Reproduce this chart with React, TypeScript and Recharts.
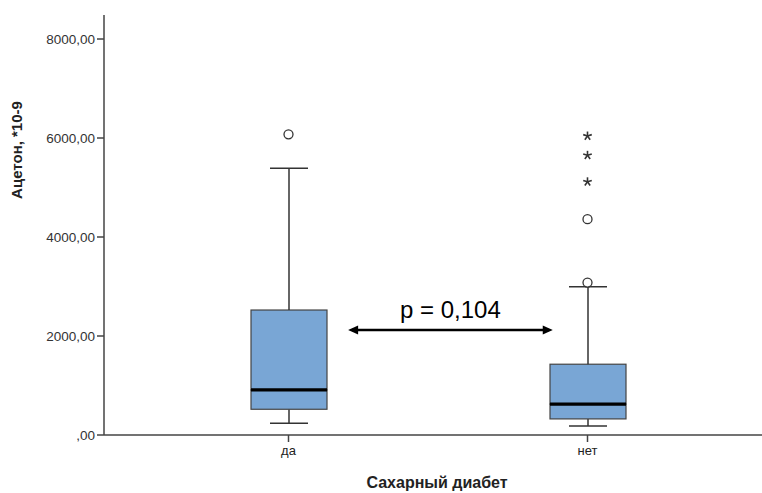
import { ComposedChart, Bar, Scatter, XAxis, YAxis, ReferenceLine, Label } from "recharts";

// box plot summary
const categories = ["да", "нет"];
const whiskerLow = [235, 180];
const q1 = [520, 325];
const median = [910, 625];
const q3 = [2525, 1430];
const whiskerHigh = [5390, 2995];

// outliers: circles = mild, stars = extreme
const circleOutliers = [
  { cat: "да", v: 6075 },
  { cat: "нет", v: 4360 },
  { cat: "нет", v: 3080 },
];
const starOutliers = [
  { cat: "нет", v: 5115 },
  { cat: "нет", v: 5650 },
  { cat: "нет", v: 6040 },
];

const yTicks = [0, 2000, 4000, 6000, 8000];
const yMax = 8485;
const pValueText = "p = 0,104";
const arrowLevel = 2120;

const rows = categories.map((cat, i) => ({
  cat,
  base: whiskerLow[i],
  lowW: q1[i] - whiskerLow[i],
  lowBox: median[i] - q1[i],
  highBox: q3[i] - median[i],
  highW: whiskerHigh[i] - q3[i],
}));

const FONT = "'Liberation Sans', Arial, sans-serif";
const LINE = "#333";
const BOX_FILL = "#79a6d5";
const CAP = 19;

const fmt = (v: number) => {
  const s = v.toFixed(2).replace(".", ",");
  return v === 0 ? s.replace(/^0/, "") : s;
};

const Empty = () => <g />;

const LowWhisker = (p: any) => {
  const cx = p.x + p.width / 2;
  const yb = p.y + p.height;
  return (
    <g stroke={LINE} strokeWidth={1.5}>
      <line x1={cx} x2={cx} y1={p.y} y2={yb} />
      <line x1={cx - CAP} x2={cx + CAP} y1={yb} y2={yb} />
    </g>
  );
};

const HighWhisker = (p: any) => {
  const cx = p.x + p.width / 2;
  return (
    <g stroke={LINE} strokeWidth={1.5}>
      <line x1={cx} x2={cx} y1={p.y} y2={p.y + p.height} />
      <line x1={cx - CAP} x2={cx + CAP} y1={p.y} y2={p.y} />
    </g>
  );
};

const LowerBox = (p: any) => (
  <rect x={p.x} y={p.y} width={p.width} height={p.height} fill={BOX_FILL} stroke="#444" strokeWidth={1.2} />
);

// upper half of the box; its bottom edge is the median, drawn on top
const UpperBox = (p: any) => (
  <g>
    <rect x={p.x} y={p.y} width={p.width} height={p.height} fill={BOX_FILL} stroke="#444" strokeWidth={1.2} />
    <line x1={p.x} x2={p.x + p.width} y1={p.y + p.height} y2={p.y + p.height} stroke="#000" strokeWidth={3.2} />
  </g>
);

const Circle = (p: any) => (
  <circle cx={p.cx} cy={p.cy} r={4.5} fill="#fff" stroke={LINE} strokeWidth={1.3} />
);

const Star = (p: any) => {
  const r = 4.5;
  const arms = [0, 72, 144, 216, 288].map((a) => {
    const t = ((a - 90) * Math.PI) / 180;
    return <line key={a} x1={p.cx} y1={p.cy} x2={p.cx + r * Math.cos(t)} y2={p.cy + r * Math.sin(t)} />;
  });
  return (
    <g stroke={LINE} strokeWidth={1.6}>
      {arms}
    </g>
  );
};

const Arrow = (p: any) => {
  const left = p.x1 + (p.x2 - p.x1) * 0.371;
  const right = p.x1 + (p.x2 - p.x1) * 0.682;
  const y = p.y1;
  const h = 10;
  const w = 4.5;
  return (
    <g>
      <line x1={left + 4} x2={right - 4} y1={y} y2={y} stroke="#000" strokeWidth={2.5} />
      <polygon points={`${left},${y} ${left + h},${y - w} ${left + h},${y + w}`} fill="#000" />
      <polygon points={`${right},${y} ${right - h},${y - w} ${right - h},${y + w}`} fill="#000" />
      <text x={(left + right) / 2} y={y - 12} textAnchor="middle" fontFamily={FONT} fontSize={24} fill="#000">
        {pValueText}
      </text>
    </g>
  );
};

export default function App() {
  return (
    <div style={{ position: "absolute", left: 0, top: 0, background: "#fff" }}>
      <ComposedChart
        width={762}
        height={493}
        data={rows}
        margin={{ top: 15, right: 0, bottom: 0, left: 0 }}
      >
        <XAxis
          dataKey="cat"
          type="category"
          allowDuplicatedCategory={false}
          padding={{ left: 35, right: 25 }}
          height={58}
          tickSize={7}
          tickMargin={4}
          stroke="#444"
          strokeWidth={1.5}
          tick={{ fontSize: 13, fill: "#222", fontFamily: FONT }}
        >
          <Label
            content={() => (
              <text x={437} y={488} textAnchor="middle" fontFamily={FONT} fontWeight="bold" fontSize={16} fill="#222">
                Сахарный диабет
              </text>
            )}
          />
        </XAxis>
        <YAxis
          dataKey="v"
          type="number"
          domain={[0, yMax]}
          ticks={yTicks}
          tickFormatter={fmt}
          width={104}
          tickSize={7}
          tickMargin={2}
          stroke="#444"
          strokeWidth={1.5}
          tick={{ fontSize: 13.5, fill: "#333", fontFamily: FONT }}
        >
          <Label
            content={() => (
              <text
                x={22}
                y={150}
                transform="rotate(-90 22 150)"
                textAnchor="middle"
                fontFamily={FONT}
                fontWeight="bold"
                fontSize={15}
                fill="#222"
              >
                Ацетон, *10-9
              </text>
            )}
          />
        </YAxis>
        <Bar dataKey="base" stackId="box" barSize={76} shape={Empty} isAnimationActive={false} />
        <Bar dataKey="lowW" stackId="box" barSize={76} shape={LowWhisker} isAnimationActive={false} />
        <Bar dataKey="lowBox" stackId="box" barSize={76} shape={LowerBox} isAnimationActive={false} />
        <Bar dataKey="highBox" stackId="box" barSize={76} shape={UpperBox} isAnimationActive={false} />
        <Bar dataKey="highW" stackId="box" barSize={76} shape={HighWhisker} isAnimationActive={false} />
        <Scatter data={circleOutliers} dataKey="v" shape={Circle} isAnimationActive={false} />
        <Scatter data={starOutliers} dataKey="v" shape={Star} isAnimationActive={false} />
        <ReferenceLine y={arrowLevel} shape={Arrow} />
      </ComposedChart>
    </div>
  );
}
